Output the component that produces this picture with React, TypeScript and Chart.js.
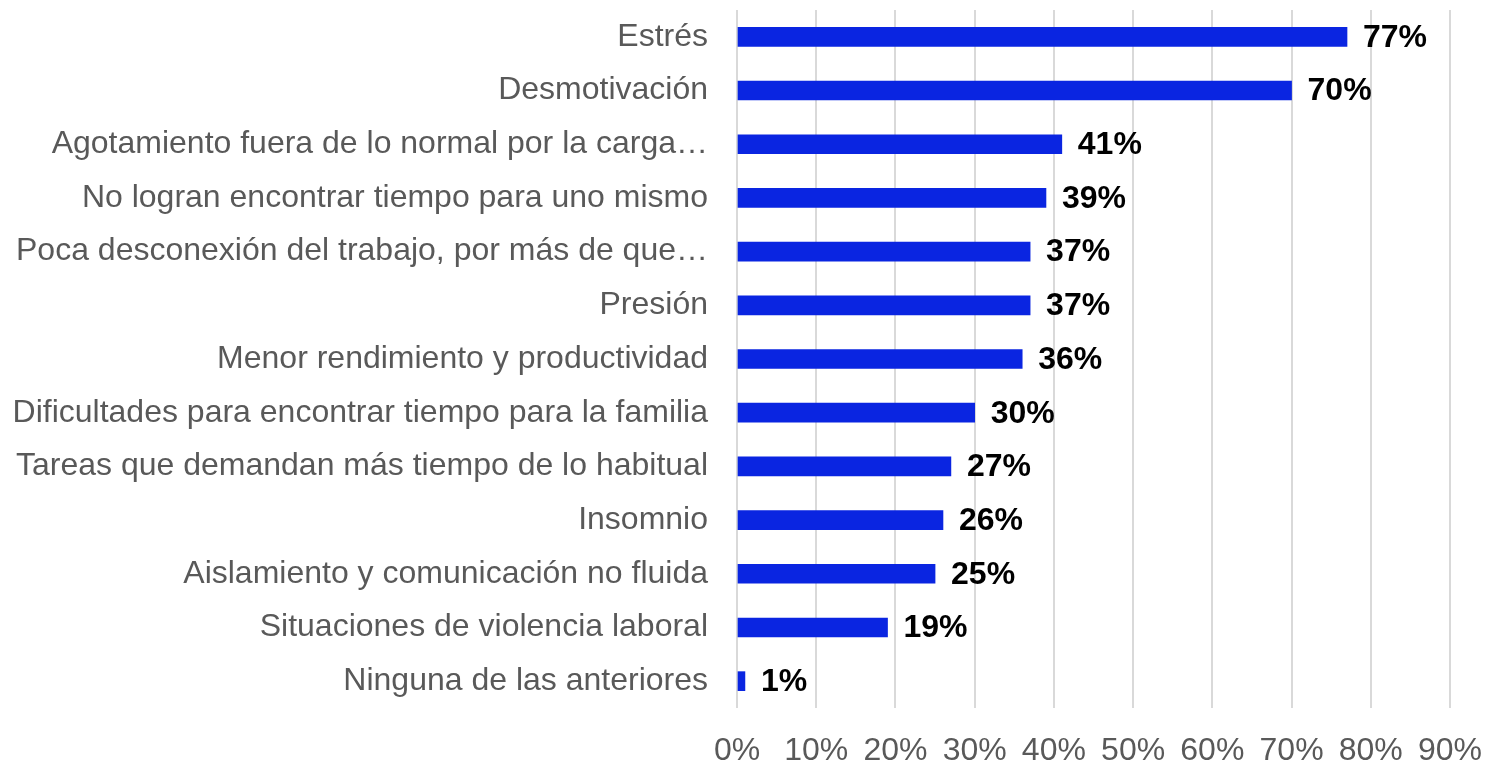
import React, { useEffect, useRef } from "react";
import { Chart, registerables } from "chart.js";

Chart.register(...registerables);

const categories = [
  "Estrés",
  "Desmotivación",
  "Agotamiento fuera de lo normal por la carga…",
  "No logran encontrar tiempo para uno mismo",
  "Poca desconexión del trabajo, por más de que…",
  "Presión",
  "Menor rendimiento y productividad",
  "Dificultades para encontrar tiempo para la familia",
  "Tareas que demandan más tiempo de lo habitual",
  "Insomnio",
  "Aislamiento y comunicación no fluida",
  "Situaciones de violencia laboral",
  "Ninguna de las anteriores",
];

const values = [77, 70, 41, 39, 37, 37, 36, 30, 27, 26, 25, 19, 1];

const xTicks = [0, 10, 20, 30, 40, 50, 60, 70, 80, 90];

const FONT = "'Liberation Sans', Arial, Helvetica, sans-serif";

const zeroPad = (scale: any) => {
  scale.paddingLeft = 0;
  scale.paddingRight = 0;
  scale.paddingTop = 0;
  scale.paddingBottom = 0;
};

const dataLabelPlugin = {
  id: "dataLabels",
  afterDatasetsDraw(chart: any) {
    const ctx = chart.ctx;
    const meta = chart.getDatasetMeta(0);
    ctx.save();
    ctx.font = `bold 32px ${FONT}`;
    ctx.fillStyle = "#000000";
    ctx.textAlign = "left";
    ctx.textBaseline = "middle";
    meta.data.forEach((bar: any, i: number) => {
      ctx.fillText(`${values[i]}%`, bar.x + 16, bar.y + 1);
    });
    ctx.restore();
  },
};

export default function App() {
  const ref = useRef<HTMLCanvasElement | null>(null);

  useEffect(() => {
    if (!ref.current) return;
    const chart = new Chart(ref.current, {
      type: "bar",
      data: {
        labels: categories,
        datasets: [
          {
            data: values,
            backgroundColor: "#0a25e1",
            barThickness: 19,
          },
        ],
      },
      options: {
        indexAxis: "y",
        animation: false,
        responsive: false,
        maintainAspectRatio: false,
        layout: { padding: { top: 10, right: 36, left: 0, bottom: 0 } },
        plugins: {
          legend: { display: false },
          tooltip: { enabled: false },
        },
        scales: {
          x: {
            min: 0,
            max: 90,
            afterBuildTicks(scale: any) {
              scale.ticks = xTicks.map((v) => ({ value: v }));
            },
            afterFit(scale: any) {
              scale.height = 54;
              zeroPad(scale);
            },
            grid: {
              color: "#d9d9d9",
              lineWidth: 2,
              drawTicks: false,
            },
            border: { display: false },
            ticks: {
              padding: 24,
              color: "#595959",
              font: { family: FONT, size: 32 },
              callback: (v: any) => `${v}%`,
              maxRotation: 0,
              autoSkip: false,
            },
          },
          y: {
            afterFit(scale: any) {
              scale.width = 737;
              zeroPad(scale);
            },
            grid: { display: false, drawTicks: false },
            border: { display: false },
            ticks: {
              padding: 29,
              color: "#595959",
              font: { family: FONT, size: 32 },
              autoSkip: false,
            },
          },
        },
      },
      plugins: [dataLabelPlugin],
    });
    return () => chart.destroy();
  }, []);

  return (
    <div style={{ position: "fixed", left: 0, top: 0, width: 1486, height: 762, background: "#fff" }}>
      <canvas ref={ref} width={1486} height={762} style={{ width: 1486, height: 762 }} />
    </div>
  );
}
